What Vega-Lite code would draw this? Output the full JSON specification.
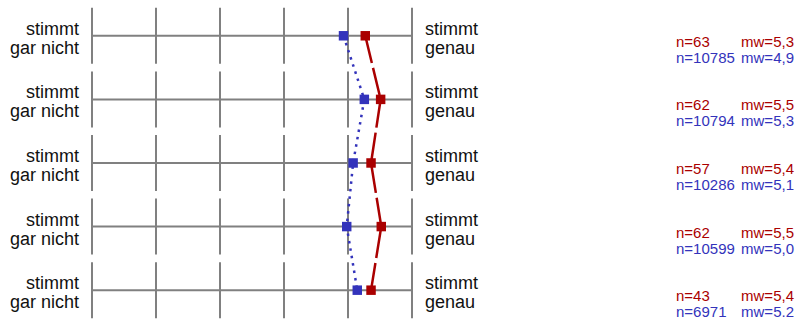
{
  "$schema": "https://vega.github.io/schema/vega-lite/v6.json",
  "width": 795,
  "height": 320,
  "autosize": {"type": "fit", "contains": "padding"},
  "padding": 0,
  "background": "white",
  "config": {"view": {"stroke": null}},
  "datasets": {
    "means": [
      {"row": 1, "group": "A", "mean": 5.27, "nLabel": "n=63", "mwLabel": "mw=5,3"},
      {"row": 2, "group": "A", "mean": 5.51, "nLabel": "n=62", "mwLabel": "mw=5,5"},
      {"row": 3, "group": "A", "mean": 5.36, "nLabel": "n=57", "mwLabel": "mw=5,4"},
      {"row": 4, "group": "A", "mean": 5.52, "nLabel": "n=62", "mwLabel": "mw=5,5"},
      {"row": 5, "group": "A", "mean": 5.36, "nLabel": "n=43", "mwLabel": "mw=5,4"},
      {"row": 1, "group": "B", "mean": 4.93, "nLabel": "n=10785", "mwLabel": "mw=4,9"},
      {"row": 2, "group": "B", "mean": 5.255, "nLabel": "n=10794", "mwLabel": "mw=5,3"},
      {"row": 3, "group": "B", "mean": 5.08, "nLabel": "n=10286", "mwLabel": "mw=5,1"},
      {"row": 4, "group": "B", "mean": 4.98, "nLabel": "n=10599", "mwLabel": "mw=5,0"},
      {"row": 5, "group": "B", "mean": 5.145, "nLabel": "n=6971", "mwLabel": "mw=5.2"}
    ],
    "items": [
      {"row": 1, "low": "stimmt\ngar nicht", "high": "stimmt\ngenau"},
      {"row": 2, "low": "stimmt\ngar nicht", "high": "stimmt\ngenau"},
      {"row": 3, "low": "stimmt\ngar nicht", "high": "stimmt\ngenau"},
      {"row": 4, "low": "stimmt\ngar nicht", "high": "stimmt\ngenau"},
      {"row": 5, "low": "stimmt\ngar nicht", "high": "stimmt\ngenau"}
    ],
    "grid": [
      {"row": 1, "step": 1}, {"row": 1, "step": 2}, {"row": 1, "step": 3}, {"row": 1, "step": 4}, {"row": 1, "step": 5}, {"row": 1, "step": 6},
      {"row": 2, "step": 1}, {"row": 2, "step": 2}, {"row": 2, "step": 3}, {"row": 2, "step": 4}, {"row": 2, "step": 5}, {"row": 2, "step": 6},
      {"row": 3, "step": 1}, {"row": 3, "step": 2}, {"row": 3, "step": 3}, {"row": 3, "step": 4}, {"row": 3, "step": 5}, {"row": 3, "step": 6},
      {"row": 4, "step": 1}, {"row": 4, "step": 2}, {"row": 4, "step": 3}, {"row": 4, "step": 4}, {"row": 4, "step": 5}, {"row": 4, "step": 6},
      {"row": 5, "step": 1}, {"row": 5, "step": 2}, {"row": 5, "step": 3}, {"row": 5, "step": 4}, {"row": 5, "step": 5}, {"row": 5, "step": 6}
    ]
  },
  "resolve": {"scale": {"x": "shared", "y": "shared"}},
  "layer": [
    {
      "data": {"name": "grid"},
      "mark": {"type": "tick", "orient": "vertical", "size": 56, "thickness": 2, "color": "#808080", "opacity": 1},
      "encoding": {
        "x": {"field": "step", "type": "quantitative", "scale": {"domain": [-0.4375, 11.984375], "nice": false, "zero": false}, "axis": null},
        "y": {"field": "row", "type": "quantitative", "scale": {"domain": [0.4375, 5.4375], "nice": false, "zero": false, "reverse": true}, "axis": null}
      }
    },
    {
      "data": {"name": "items"},
      "mark": {"type": "rule", "color": "#808080", "strokeWidth": 2},
      "encoding": {
        "x": {"datum": 1, "type": "quantitative"},
        "x2": {"datum": 6},
        "y": {"field": "row", "type": "quantitative"}
      }
    },
    {
      "data": {"name": "items"},
      "mark": {"type": "text", "align": "right", "baseline": "middle", "dx": -13, "dy": -6, "font": "Liberation Sans", "fontSize": 18, "lineBreak": "\n", "lineHeight": 19, "color": "#111111"},
      "encoding": {
        "x": {"datum": 1, "type": "quantitative"},
        "y": {"field": "row", "type": "quantitative"},
        "text": {"field": "low"}
      }
    },
    {
      "data": {"name": "items"},
      "mark": {"type": "text", "align": "left", "baseline": "middle", "dx": 13, "dy": -6, "font": "Liberation Sans", "fontSize": 18, "lineBreak": "\n", "lineHeight": 19, "color": "#111111"},
      "encoding": {
        "x": {"datum": 6, "type": "quantitative"},
        "y": {"field": "row", "type": "quantitative"},
        "text": {"field": "high"}
      }
    },
    {
      "data": {"name": "means"},
      "mark": {"type": "line", "strokeWidth": 2.5},
      "encoding": {
        "x": {"field": "mean", "type": "quantitative"},
        "y": {"field": "row", "type": "quantitative"},
        "order": {"field": "row", "type": "quantitative"},
        "color": {"field": "group", "type": "nominal", "scale": {"domain": ["A", "B"], "range": ["#aa0000", "#3333bb"]}, "legend": null},
        "strokeDash": {"field": "group", "type": "nominal", "scale": {"domain": ["A", "B"], "range": [[28, 5], [2.5, 5]]}, "legend": null}
      }
    },
    {
      "data": {"name": "means"},
      "mark": {"type": "point", "shape": "square", "filled": true, "size": 90, "opacity": 1},
      "encoding": {
        "x": {"field": "mean", "type": "quantitative"},
        "y": {"field": "row", "type": "quantitative"},
        "color": {"field": "group", "type": "nominal", "legend": null}
      }
    },
    {
      "data": {"name": "means"},
      "transform": [{"filter": "datum.group === 'A'"}],
      "mark": {"type": "text", "align": "left", "baseline": "middle", "dx": 264, "dy": 6, "font": "Liberation Sans", "fontSize": 15},
      "encoding": {
        "x": {"datum": 6, "type": "quantitative"},
        "y": {"field": "row", "type": "quantitative"},
        "text": {"field": "nLabel"},
        "color": {"field": "group", "type": "nominal", "legend": null}
      }
    },
    {
      "data": {"name": "means"},
      "transform": [{"filter": "datum.group === 'A'"}],
      "mark": {"type": "text", "align": "right", "baseline": "middle", "dx": 382, "dy": 6, "font": "Liberation Sans", "fontSize": 15},
      "encoding": {
        "x": {"datum": 6, "type": "quantitative"},
        "y": {"field": "row", "type": "quantitative"},
        "text": {"field": "mwLabel"},
        "color": {"field": "group", "type": "nominal", "legend": null}
      }
    },
    {
      "data": {"name": "means"},
      "transform": [{"filter": "datum.group === 'B'"}],
      "mark": {"type": "text", "align": "left", "baseline": "middle", "dx": 264, "dy": 22, "font": "Liberation Sans", "fontSize": 15},
      "encoding": {
        "x": {"datum": 6, "type": "quantitative"},
        "y": {"field": "row", "type": "quantitative"},
        "text": {"field": "nLabel"},
        "color": {"field": "group", "type": "nominal", "legend": null}
      }
    },
    {
      "data": {"name": "means"},
      "transform": [{"filter": "datum.group === 'B'"}],
      "mark": {"type": "text", "align": "right", "baseline": "middle", "dx": 382, "dy": 22, "font": "Liberation Sans", "fontSize": 15},
      "encoding": {
        "x": {"datum": 6, "type": "quantitative"},
        "y": {"field": "row", "type": "quantitative"},
        "text": {"field": "mwLabel"},
        "color": {"field": "group", "type": "nominal", "legend": null}
      }
    }
  ]
}
